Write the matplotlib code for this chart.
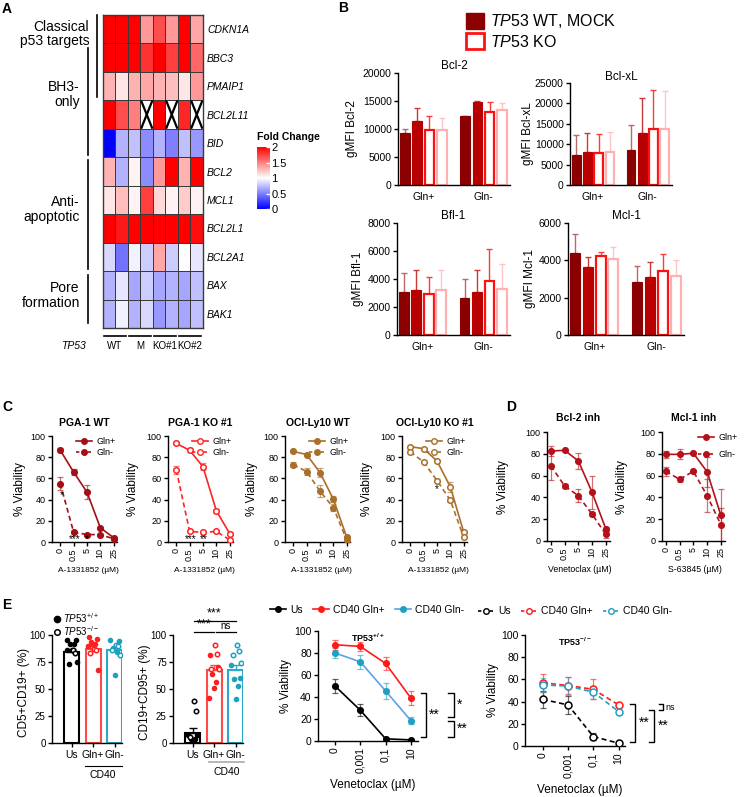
import numpy as np
import matplotlib
matplotlib.use("Agg")
from matplotlib import pyplot as plt
from matplotlib.patches import Patch, Rectangle
from matplotlib.lines import Line2D

plt.rcParams['font.family'] = ['Liberation Sans', 'DejaVu Sans']
plt.rcParams['mathtext.fontset'] = 'custom'
plt.rcParams['mathtext.rm'] = 'Liberation Sans'
plt.rcParams['mathtext.it'] = 'Liberation Sans:italic'
plt.rcParams['mathtext.bf'] = 'Liberation Sans:bold'
plt.rcParams['axes.linewidth'] = 1.0
plt.rcParams['xtick.major.width'] = 1.0
plt.rcParams['ytick.major.width'] = 1.0
plt.rcParams['xtick.major.size'] = 3
plt.rcParams['ytick.major.size'] = 3
plt.rcParams['xtick.major.pad'] = 1.5
plt.rcParams['ytick.major.pad'] = 1.5

nan = np.nan

# ---------------- A: heatmap ----------------
genes = ['CDKN1A', 'BBC3', 'PMAIP1', 'BCL2L11', 'BID', 'BCL2', 'MCL1',
         'BCL2L1', 'BCL2A1', 'BAX', 'BAK1']
fold_change = np.array([
    [2.0, 2.0, 2.0, 1.4, 1.7, 1.4, 2.0, 1.35],
    [2.0, 2.0, 2.0, 1.8, 2.0, 1.75, 2.0, 1.6],
    [1.3, 1.1, 1.3, 1.35, 1.3, 1.25, 1.1, 1.4],
    [2.0, 1.7, 1.5, nan, 2.0, nan, 1.85, nan],
    [0.0, 0.7, 0.75, 0.55, 0.7, 0.5, 0.75, 0.6],
    [1.3, 0.7, 1.05, 0.55, 1.4, 2.0, 1.3, 2.0],
    [1.1, 1.25, 1.05, 1.75, 1.15, 1.05, 1.2, 1.05],
    [2.0, 1.9, 2.0, 2.0, 2.0, 2.0, 2.0, 1.95],
    [0.85, 0.45, 0.95, 0.8, 1.35, 0.8, 1.0, 0.9],
    [0.7, 0.9, 0.65, 0.8, 0.65, 0.7, 0.65, 0.75],
    [0.7, 0.95, 0.7, 0.85, 0.6, 0.7, 0.65, 0.75],
])
col_groups = ['WT', 'M', 'KO#1', 'KO#2']
row_groups = ['Classical\np53 targets', 'BH3-\nonly', 'Anti-\napoptotic', 'Pore\nformation']
row_group_span = [(0.0, 2.88), (1.15, 4.92), (5.1, 8.93), (9.15, 10.83)]
row_group_mid = [0.67, 2.8, 6.84, 9.86]
cbar_ticks = [0, 0.5, 1, 1.5, 2]

# ---------------- B: bar charts (rows: Gln+, Gln-; cols: WT, MOCK, KO#1, KO#2) ----------------
b_groups = ['Gln+', 'Gln-']
bcl2_mean = [[9300, 11450, 9800, 9900], [12300, 14750, 13100, 13450]]
bcl2_err = [[700, 2300, 2500, 2100], [100, 200, 1650, 1150]]
bclxl_mean = [[7450, 8000, 7900, 8000], [8600, 12750, 13700, 13700]]
bclxl_err = [[4900, 4750, 4600, 5000], [6050, 8550, 9550, 9400]]
bfl1_mean = [[3100, 3240, 2930, 3240], [2640, 3070, 3880, 3290]]
bfl1_err = [[1330, 1380, 1190, 1380], [1380, 1600, 2240, 1760]]
mcl1_mean = [[4400, 3660, 4230, 4050], [2850, 3110, 3430, 3170]]
mcl1_err = [[1010, 510, 230, 670], [870, 780, 920, 870]]

# ---------------- C / D: viability curves ----------------
conc_a133 = ['0', '0.5', '5', '10', '25']
pga_wt_plus = [86.5, 66, 47, 13.5, 4]
pga_wt_plus_err = [2, 2.5, 6.5, 1, 1]
pga_wt_minus = [55, 9.3, 7, 7, 3]
pga_wt_minus_err = [6, 1, 1, 1, 1]
pga_ko_plus = [93, 86.5, 71, 29.5, 8]
pga_ko_plus_err = [1, 2, 3.5, 2, 1]
pga_ko_minus = [68, 10, 9, 10, 2]
pga_ko_minus_err = [3.5, 1, 1, 1, 0.5]
oci_wt_plus = [85.5, 82.5, 65.5, 40.5, 4.7]
oci_wt_plus_err = [1, 1, 4, 3, 1]
oci_wt_minus = [73, 66.5, 48, 32.5, 2]
oci_wt_minus_err = [2.5, 3, 6, 3, 1]
oci_ko_plus = [90, 88, 76.5, 52, 9.5]
oci_ko_plus_err = [1, 1, 1, 5, 1]
oci_ko_minus = [85, 75.5, 58, 39.5, 4.5]
oci_ko_minus_err = [1, 1, 1, 2, 1]

bcl2inh_plus = [82.5, 83.2, 73.5, 44.5, 11]
bcl2inh_plus_err = [4.5, 1, 7.5, 15, 2]
bcl2inh_minus = [69, 50.5, 41.5, 24.5, 6]
bcl2inh_minus_err = [13, 2, 6, 2, 3]
mcl1inh_plus = [79.5, 79.5, 80.5, 63.5, 23.5]
mcl1inh_plus_err = [3, 4.5, 1, 13.5, 24]
mcl1inh_minus = [64, 56.5, 64, 41.5, 15]
mcl1inh_minus_err = [4, 2, 1, 15, 15]

# ---------------- E ----------------
e_groups = ['Us', 'Gln+', 'Gln-']
cd5_mean = [84.5, 87.5, 86]
cd5_sem = [2.2, 2.8, 3]
cd5_filled = [[95.5, 95.5, 92, 92, 86, 86, 75, 73],
              [98, 96.5, 93.5, 92, 90.5, 89.5, 68],
              [95.5, 94, 88, 84.5, 63]]
cd5_open = [[86, 83], [87, 86, 83], [90.5, 90, 86, 81.5]]
cd95_mean = [9.3, 67.6, 67.6]
cd95_sem = [4.3, 4.9, 5]
cd95_filled = [[7.4, 7.4, 3.4, 3.4, 1.2],
               [81.5, 70.7, 63.9, 56.8, 50.6, 42],
               [72.2, 59.9, 59.3, 53, 40.4]]
cd95_open = [[39.2, 29.6, 5.2], [90.7, 82.4, 68.5, 68.5], [90.7, 85.5, 81.5, 73.8]]

ven_conc = ['0', '0,001', '0,1', '10']
wt_us = [50, 28, 2, 1]
wt_us_err = [6.5, 5.5, 1, 0.5]
wt_gplus = [87.5, 86, 70.5, 39]
wt_gplus_err = [4.5, 4, 5.5, 6.5]
wt_gminus = [80, 72, 45.5, 18.5]
wt_gminus_err = [4.5, 6.5, 7.5, 3]
ko_us = [42, 37, 8.5, 2.5]
ko_us_err = [8, 8, 3, 0.5]
ko_gplus = [57, 54.5, 51, 37]
ko_gplus_err = [8, 8, 9, 2]
ko_gminus = [55, 54, 48.5, 31]
ko_gminus_err = [6, 8, 6, 1.5]

W, H = 744, 797
fig = plt.figure(figsize=(W / 100, H / 100), dpi=100)


def px_axes(x0, y0, x1, y1):
    return fig.add_axes([x0 / W, 1 - y1 / H, (x1 - x0) / W, (y1 - y0) / H])


def ftext(x, y, s, **kw):
    kw.setdefault('ha', 'center')
    kw.setdefault('va', 'center')
    fig.text(x / W, 1 - y / H, s, **kw)


def clean(ax):
    ax.spines['top'].set_visible(False)
    ax.spines['right'].set_visible(False)


# panel letters
for lab, x, y in [('A', 7, 9), ('B', 343, 8), ('C', 7, 407), ('D', 511, 407), ('E', 7, 605)]:
    ftext(x, y, lab, fontsize=10, fontweight='bold')

# ================= A =================
axA = px_axes(103, 15, 203, 328)
mesh = axA.pcolormesh(np.ma.masked_invalid(fold_change), cmap='bwr', vmin=0, vmax=2,
                      edgecolors='#3a3a3a', linewidth=0.6)
axA.set_xlim(0, 8)
axA.set_ylim(11, 0)
for r, c in zip(*np.where(np.isnan(fold_change))):
    axA.add_patch(Rectangle((c, r), 1, 1, fill=False, ec='#3a3a3a', lw=0.6))
    axA.plot([c + 0.08, c + 0.92], [r + 0.04, r + 0.96], color='k', lw=1.6)
    axA.plot([c + 0.92, c + 0.08], [r + 0.04, r + 0.96], color='k', lw=1.6)
for s in axA.spines.values():
    s.set_color('#3a3a3a')
axA.set_xticks([])
axA.yaxis.tick_right()
axA.set_yticks(np.arange(len(genes)) + 0.5)
axA.set_yticklabels(genes, fontstyle='italic', fontsize=7.5)
axA.tick_params(axis='y', length=0, pad=3)
for i, g in enumerate(row_groups):
    y0, y1 = row_group_span[i]
    lx = -0.48 if i == 0 else -1.2
    axA.plot([lx, lx], [y0, y1], color='k', lw=1.2, clip_on=False)
    tx = -1.1 if i == 0 else -1.85
    axA.text(tx, row_group_mid[i], g, ha='right', va='center', fontsize=10,
             linespacing=1.05, multialignment='right')
for k, g in enumerate(col_groups):
    axA.plot([2 * k + 0.05, 2 * k + 1.88], [11.28, 11.28], color='k', lw=1.2, clip_on=False)
    axA.text(2 * k + 0.96, 11.62, g, ha='center', va='center', fontsize=7)
axA.text(-2.4, 11.62, 'TP53', ha='center', va='center', fontsize=7.5, fontstyle='italic')

cax = px_axes(257, 147, 270, 209)
cb = fig.colorbar(mesh, cax=cax, ticks=cbar_ticks)
cb.ax.set_yticklabels(['0', '0.5', '1', '1.5', '2'])
cb.outline.set_visible(False)
cax.tick_params(direction='in', color='white', length=3, labelsize=8, pad=1)
ftext(257, 137, 'Fold Change', ha='left', fontsize=7.5, fontweight='bold')

# ================= B =================
bar_fc = ['#8B0000', '#B80000', 'white', 'white']
bar_ec = ['#8B0000', '#B80000', '#FF1010', '#FFB0B0']
bar_lw = [0.8, 0.8, 1.6, 1.6]
err_c = ['#B86A6A', '#C83A3A', '#FF3A3A', '#FFC4C4']


def bar_panel(rect, title, ylab, means, errs, ymax, ystep, ylab_x):
    ax = px_axes(*rect)
    for g in range(2):
        for i in range(4):
            x = g + (i - 1.5) * 0.205
            ax.bar(x, means[g][i], width=0.16, color=bar_fc[i], edgecolor=bar_ec[i],
                   linewidth=bar_lw[i], zorder=2)
            ax.errorbar(x, means[g][i], yerr=[[0], [errs[g][i]]], color=err_c[i],
                        capsize=2.5, elinewidth=1, capthick=1, lw=0, zorder=1)
    ax.set_xlim(-0.42, 1.44)
    ax.set_ylim(0, ymax)
    ax.set_yticks(np.arange(0, ymax + 1, ystep))
    ax.set_xticks([0, 1])
    ax.set_xticklabels(b_groups, fontsize=7.5)
    ax.tick_params(axis='x', length=0, pad=5)
    ax.tick_params(axis='y', labelsize=7.5)
    clean(ax)
    ax.text(0.5, 1.06, title, transform=ax.transAxes, ha='center', va='center', fontsize=8.5)
    ftext(ylab_x, (rect[1] + rect[3]) / 2, ylab, rotation=90, fontsize=8.5)
    return ax


bar_panel((398, 73, 510, 185), 'Bcl-2', 'gMFI Bcl-2', bcl2_mean, bcl2_err, 20000, 5000, 352)
bar_panel((570, 83, 672, 185), 'Bcl-xL', 'gMFI Bcl-xL', bclxl_mean, bclxl_err, 25000, 5000, 528)
bar_panel((397, 223, 510, 335), 'Bfl-1', 'gMFI Bfl-1', bfl1_mean, bfl1_err, 8000, 2000, 358)
bar_panel((568, 223, 684, 335), 'Mcl-1', 'gMFI Mcl-1', mcl1_mean, mcl1_err, 6000, 2000, 530)

fig.legend(handles=[Patch(fc='#8B0000', ec='#8B0000'), Patch(fc='white', ec='#FF1010', lw=2)],
           labels=[r'$\mathit{TP53}$ WT, MOCK', r'$\mathit{TP53}$ KO'],
           loc='upper left', bbox_to_anchor=(458 / W, 1 - 4 / H), frameon=False,
           fontsize=11.5, handlelength=1.15, handleheight=1.15, handletextpad=0.35,
           labelspacing=0.2, borderpad=0)


# ================= C / D =================
def viab_panel(rect, xlim, ticklabels, curves):
    ax = px_axes(*rect)
    x = np.arange(len(ticklabels))
    for c in curves:
        ls = (0, (3, 2)) if c['dashed'] else '-'
        mfc = 'white' if c['open'] else c['color']
        ax.errorbar(x, c['y'], yerr=c['err'], color=c.get('ecolor', c['color']),
                    capsize=2, elinewidth=0.9, capthick=0.9, lw=0, alpha=0.6, zorder=1)
        ax.plot(x, c['y'], color=c.get('lcolor', c['color']), ls=ls, lw=1.2, zorder=2)
        ax.plot(x, c['y'], 'o', color=c['color'], mfc=mfc, ms=c.get('ms', 4), mew=1.1, zorder=3)
    ax.set_xlim(*xlim)
    ax.set_ylim(0, 100)
    ax.set_xticks(x)
    ax.set_xticklabels(ticklabels, rotation=90)
    clean(ax)
    return ax


def gln_curves(plus, plus_err, minus, minus_err, color, open_m):
    return [dict(y=plus, err=plus_err, color=color, dashed=False, open=open_m),
            dict(y=minus, err=minus_err, color=color, dashed=True, open=open_m)]


def gln_legend(ax, color, open_m, anchor, spacing=0.15):
    mfc = 'white' if open_m else color
    hs = [Line2D([], [], color=color, marker='o', mfc=mfc, ms=4, lw=1.2),
          Line2D([], [], color=color, marker='o', mfc=mfc, ms=4, lw=1.2, ls=(0, (2, 1.5)))]
    ax.legend(hs, ['Gln+', 'Gln-'], loc='upper right', bbox_to_anchor=anchor, frameon=False,
              fontsize=6.5, handlelength=1.8, handletextpad=0.5, labelspacing=spacing,
              borderpad=0)


c_panels = [
    ((52, 436, 117, 542), 'PGA-1 WT', gln_curves(pga_wt_plus, pga_wt_plus_err, pga_wt_minus, pga_wt_minus_err, '#A30F14', False), '#A30F14', False, 20),
    ((168, 436, 233, 542), 'PGA-1 KO #1', gln_curves(pga_ko_plus, pga_ko_plus_err, pga_ko_minus, pga_ko_minus_err, '#FF2424', True), '#FF2424', True, 133),
    ((285, 436, 350, 542), 'OCI-Ly10 WT', gln_curves(oci_wt_plus, oci_wt_plus_err, oci_wt_minus, oci_wt_minus_err, '#A8702A', False), '#A8702A', False, 252),
    ((402, 436, 467, 542), 'OCI-Ly10 KO #1', gln_curves(oci_ko_plus, oci_ko_plus_err, oci_ko_minus, oci_ko_minus_err, '#A8702A', True), '#A8702A', True, 367),
]
c_axes = []
for rect, title, curves, col, op, ylx in c_panels:
    ax = viab_panel(rect, (-0.62, 4.25), conc_a133, curves)
    ax.tick_params(labelsize=6.5)
    ax.text(0.5, 1.12, title, transform=ax.transAxes, ha='center', va='center',
            fontsize=7.5, fontweight='bold')
    ftext(ylx, 489, '% Viability', rotation=90, fontsize=8.5)
    ftext((rect[0] + rect[2]) / 2 + 4, 570, 'A-1331852 (µM)', fontsize=6)
    gln_legend(ax, col, op, (1.05, 1.03))
    c_axes.append(ax)

# significance stars in C
c_axes[0].text(0.1, 44, '*', ha='center', va='center', fontsize=7)
c_axes[0].text(1.1, 3, '***', ha='center', va='center', fontsize=7)
c_axes[0].text(2, 3, '*', ha='center', va='center', fontsize=7)
c_axes[1].text(1.05, 3, '***', ha='center', va='center', fontsize=7)
c_axes[1].text(2.05, 3, '**', ha='center', va='center', fontsize=7)
c_axes[3].text(2, 50, '*', ha='center', va='center', fontsize=7)

d_col = '#B3121B'
d_panels = [
    ((547, 432, 610, 541), 'Bcl-2 inh', gln_curves(bcl2inh_plus, bcl2inh_plus_err, bcl2inh_minus, bcl2inh_minus_err, d_col, False), 503, 'Venetoclax (µM)'),
    ((662, 432, 725, 541), 'Mcl-1 inh', gln_curves(mcl1inh_plus, mcl1inh_plus_err, mcl1inh_minus, mcl1inh_minus_err, d_col, False), 622, 'S-63845 (µM)'),
]
for k, (rect, title, curves, ylx, xl) in enumerate(d_panels):
    ax = viab_panel(rect, (-0.28, 4.3), conc_a133, curves)
    ax.tick_params(labelsize=6.5)
    ax.text(0.5, 1.13, title, transform=ax.transAxes, ha='center', va='center',
            fontsize=7.5, fontweight='bold')
    ftext(ylx, 487, '% Viability', rotation=90, fontsize=8.5)
    ftext((rect[0] + rect[2]) / 2 + 1, 570, xl, fontsize=6.3)
    if k == 1:
        gln_legend(ax, d_col, False, (1.27, 1.03), spacing=0.9)

# ================= E: dot/bar =================
e_cols = ['#000000', '#FF1F1F', '#1FA0C0']
e_bar_ec = ['#000000', '#FF4A4A', '#2AAAC8']
jit = [-0.2, 0.2, -0.08, 0.1, 0.0, -0.24, 0.24, -0.14, 0.14, 0.05]


def dot_panel(rect, means, sems, filled, opened, ylab, ylab_x):
    ax = px_axes(*rect)
    for g in range(3):
        ax.bar(g, means[g], width=0.7, color='white', edgecolor=e_bar_ec[g], linewidth=1.5, zorder=1)
        ax.errorbar(g, means[g], yerr=[[0], [sems[g]]], color=e_bar_ec[g], capsize=3,
                    elinewidth=1, capthick=1, lw=0, zorder=2)
        f = filled[g]
        o = opened[g]
        ax.plot(g + np.array(jit[:len(f)]), f, 'o', color=e_cols[g], ms=3, zorder=3)
        ax.plot(g + np.array(jit[::-1][:len(o)]), o, 'o', color=e_cols[g], mfc='white',
                ms=3.2, mew=1.1, zorder=3)
    ax.set_xlim(-0.92, 2.35)
    ax.set_ylim(0, 100)
    ax.set_yticks([0, 25, 50, 75, 100])
    ax.set_xticks([0, 1, 2])
    ax.set_xticklabels(e_groups, fontsize=7.5)
    ax.tick_params(axis='y', labelsize=7)
    ax.tick_params(axis='x', pad=2)
    clean(ax)
    ftext(ylab_x, 692, ylab, rotation=90, fontsize=8.5)
    return ax


axE1 = dot_panel((52, 635, 122, 743), cd5_mean, cd5_sem, cd5_filled, cd5_open, 'CD5+CD19+ (%)', 24)
axE2 = dot_panel((173, 635, 243, 743), cd95_mean, cd95_sem, cd95_filled, cd95_open, 'CD19+CD95+ (%)', 145)

tr1 = axE1.get_xaxis_transform()
axE1.plot([0.6, 2.33], [-0.21, -0.21], color='k', lw=0.8, transform=tr1, clip_on=False)
axE1.text(1.45, -0.3, 'CD40', transform=tr1, ha='center', va='center', fontsize=7.5)
tr2 = axE2.get_xaxis_transform()
axE2.plot([0.78, 2.4], [-0.18, -0.18], color='#aaaaaa', lw=1.2, transform=tr2, clip_on=False)
axE2.text(1.58, -0.27, 'CD40', transform=tr2, ha='center', va='center', fontsize=7.5)

axE1.legend([Line2D([], [], marker='o', ls='none', color='k', ms=4.5),
             Line2D([], [], marker='o', ls='none', color='k', mfc='white', ms=4, mew=1.1)],
            [r'$\mathit{TP53}^{+/+}$', r'$\mathit{TP53}^{-/-}$'],
            loc='lower left', bbox_to_anchor=(-0.06, 0.93), frameon=False, fontsize=7,
            handlelength=0.8, handletextpad=0.3, labelspacing=-0.1, borderpad=0)

# significance brackets in E2
axE2.plot([0.05, 0.98], [102.8, 102.8], color='k', lw=0.9, clip_on=False)
axE2.plot([1.1, 2.0], [102.8, 102.8], color='k', lw=0.9, clip_on=False)
axE2.plot([0.05, 2.0], [113, 113], color='k', lw=0.9, clip_on=False)
axE2.text(0.52, 104, '***', ha='center', va='bottom', fontsize=9, clip_on=False)
axE2.text(1.55, 104, 'ns', ha='center', va='bottom', fontsize=7, clip_on=False)
axE2.text(1.0, 114, '***', ha='center', va='bottom', fontsize=9, clip_on=False)

# ================= E: venetoclax curves =================
red_e = '#FF1A1A'
teal_e = '#1FA0C0'
wt_curves = [
    dict(y=wt_us, err=wt_us_err, color='k', dashed=False, open=False),
    dict(y=wt_gplus, err=wt_gplus_err, color=red_e, dashed=False, open=False),
    dict(y=wt_gminus, err=wt_gminus_err, color=teal_e, lcolor='#5AA2E8', dashed=False, open=False),
]
ko_curves = [
    dict(y=ko_us, err=ko_us_err, color='k', dashed=True, open=True, ms=5),
    dict(y=ko_gplus, err=ko_gplus_err, color=red_e, dashed=True, open=True, ms=5),
    dict(y=ko_gminus, err=ko_gminus_err, color=teal_e, dashed=True, open=True, ms=5),
]

axE3 = viab_panel((318, 631, 418, 741), (-0.67, 3.28), ven_conc, wt_curves)
axE4 = viab_panel((525, 635, 625, 746), (-0.7, 3.25), ven_conc, ko_curves)
for ax, ttl, ylx, yc, xly in [(axE3, r'$\mathbf{TP53}^{\mathbf{+/+}}$', 286, 686, 785),
                              (axE4, r'$\mathbf{TP53}^{\mathbf{-/-}}$', 493, 690, 790)]:
    ax.tick_params(labelsize=7.5)
    ax.text(0.5, 0.94, ttl, transform=ax.transAxes, ha='center', va='center', fontsize=6.5)
    ftext(ylx, yc, '% Viability', rotation=90, fontsize=8.5)
    ftext(ylx + 87, xly, 'Venetoclax (µM)', fontsize=8.5)

leg_labels = ['Us', 'CD40 Gln+', 'CD40 Gln-']
h3 = [Line2D([], [], color='k', marker='o', ms=4, lw=1.2),
      Line2D([], [], color=red_e, marker='o', ms=4, lw=1.2),
      Line2D([], [], color='#5AA2E8', marker='o', mfc=teal_e, mec=teal_e, ms=4, lw=1.2)]
axE3.legend(h3, leg_labels, loc='lower left', bbox_to_anchor=(-0.53, 1.1), ncol=3,
            frameon=False, fontsize=7.5, handlelength=1.5, handletextpad=0.4,
            columnspacing=1.0, borderpad=0)
h4 = [Line2D([], [], color=c, marker='o', mfc='white', ms=4, lw=1.2, ls=(0, (2, 1.5)))
      for c in ['k', red_e, teal_e]]
axE4.legend(h4, leg_labels, loc='lower left', bbox_to_anchor=(-0.52, 1.12), ncol=3,
            frameon=False, fontsize=7.5, handlelength=1.5, handletextpad=0.4,
            columnspacing=1.0, borderpad=0)


def bracket(ax, x, y0, y1, label, tick=0.2, fs=10, dx=0.12, ty=None):
    ax.plot([x - tick, x, x, x - tick], [y0, y0, y1, y1], color='k', lw=1, clip_on=False)
    ax.text(x + dx, (y0 + y1) / 2 if ty is None else ty, label, ha='left', va='center',
            fontsize=fs, clip_on=False)


bracket(axE3, 3.6, 43.6, 3.6, '**')
bracket(axE3, 4.7, 43.6, 21.8, '*', tick=0.25)
bracket(axE3, 4.7, 18, 3.6, '**', tick=0.25)
bracket(axE4, 3.66, 37.8, 3.6, '**')
bracket(axE4, 4.41, 32.4, 3.6, '**', tick=0.2)
bracket(axE4, 4.76, 37.8, 32.4, 'ns', tick=0.15, fs=6.5, dx=0.08)

fig.savefig('out.png', dpi=100)
